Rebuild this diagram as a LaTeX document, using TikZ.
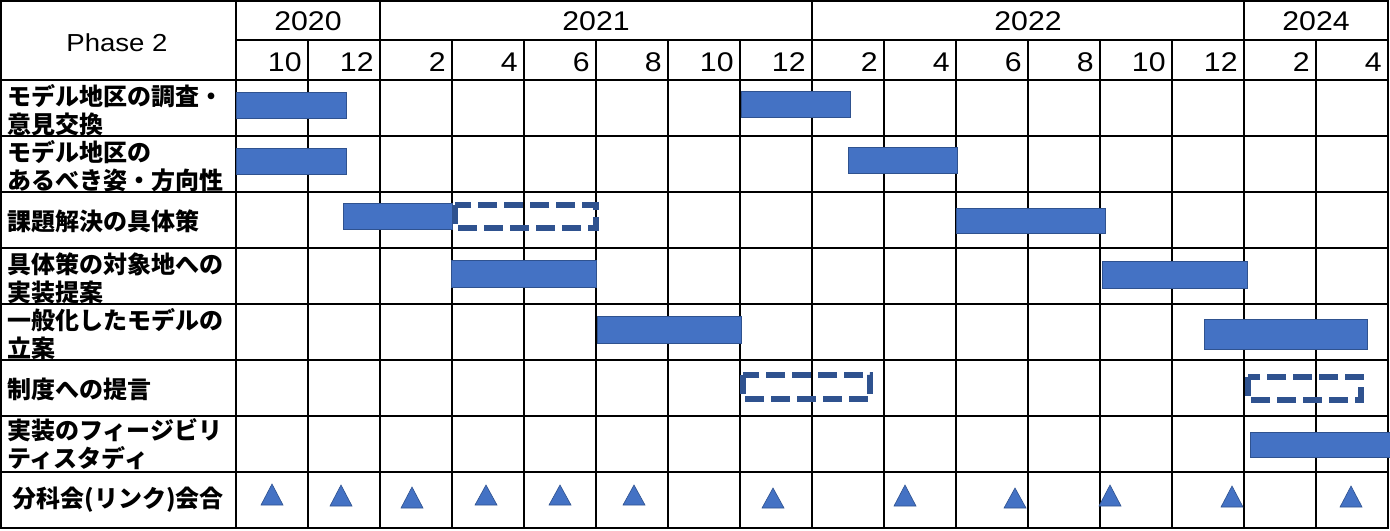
\documentclass[tikz,border=0pt]{standalone}
\usepackage{fontspec}
\setmainfont{Liberation Sans}[FakeStretch=1.12]
\newfontfamily\jp{Noto Sans CJK JP}
\definecolor{barblue}{HTML}{4472C4}
\definecolor{bardark}{HTML}{2F528F}
\begin{document}
\begin{tikzpicture}[x=0.5pt,y=-0.5pt,
  grid/.style={line width=1pt, black},
  bar/.style={fill=barblue, draw=bardark, line width=0.5pt},
  plan/.style={draw=bardark, line width=2.7pt, dash pattern=on 9.5pt off 3.5pt},
  meet/.style={fill=barblue, draw=bardark, line width=0.3pt},
  lbl/.style={anchor=west, align=left, inner sep=0pt, font=\jp\bfseries\fontsize{12}{14}\selectfont},
  yr/.style={inner sep=0pt, font=\fontsize{13.5}{16}\selectfont},
  mo/.style={anchor=east, inner sep=0pt, font=\fontsize{13.5}{16}\selectfont},
  hd/.style={inner sep=0pt, font=\fontsize{12.3}{14}\selectfont}]
\useasboundingbox (0,0) rectangle (1390,530);
\fill[white] (0,0) rectangle (1390,530);
% row labels
\node[hd] (phase) at (117,43) {Phase 2};
\node[lbl] (l1) at (7,110) {モデル地区の調査・\\意見交換};
\node[lbl] (l2) at (7,166) {モデル地区の\\あるべき姿・方向性};
\node[lbl] (l3) at (7,221) {課題解決の具体策};
\node[lbl] (l4) at (7,278) {具体策の対象地への\\実装提案};
\node[lbl] (l5) at (7,334) {一般化したモデルの\\立案};
\node[lbl] (l6) at (7,389) {制度への提言};
\node[lbl] (l7) at (7,444) {実装のフィージビリ\\ティスタディ};
\node[lbl, anchor=center] (l8) at (118,500) {分科会(リンク)会合};
% years
\node[yr] (y2020) at (308,21.5) {2020};
\node[yr] (y2021) at (596,21.5) {2021};
\node[yr] (y2022) at (1028,21.5) {2022};
\node[yr] (y2024) at (1316,21.5) {2024};
% months
\foreach \m [count=\i from 0] in {10,12,2,4,6,8,10,12,2,4,6,8,10,12,2,4}
  \node[mo] (m\i) at (302+72*\i,62) {\m};
% grid
\draw[grid] (1,1) rectangle (1388,528);
\draw[grid] (236,40) -- (1388,40);
\foreach \yy in {80,136,192,248,304,360,416,472}
  \draw[grid] (1,\yy) -- (1388,\yy);
\foreach \xx in {236,380,812,1244}
  \draw[grid] (\xx,1) -- (\xx,528);
\foreach \xx in {308,452,524,596,668,740,884,956,1028,1100,1172,1316}
  \draw[grid] (\xx,40) -- (\xx,528);
% bars
\foreach \xa/\ya/\xb/\yb in {236/92/346/118, 741/91/850/117,
  236/148/346/174, 848/147/957/173,
  343/203/452/229, 956/208/1105/233,
  451/260/596/287, 1102/261/1247/288,
  597/316/741/343, 1204/319/1367/349,
  1250/432/1392/457}
  \draw[bar] (\xa,\ya) rectangle (\xb,\yb);
% planned (dashed)
\draw[plan] (455,205) rectangle (596,228);
\draw[plan] (743,375) rectangle (870,399);
\draw[plan] (1248,377) rectangle (1361,400);
% meetings
\foreach \cx/\ap/\bs in {272/484/505, 341/485/506, 412/487/508, 486/485/505,
  560/485/505, 634/485/505, 773/488/508, 905/485/506, 1015/488/508,
  1110/485/506, 1232/486/507, 1351/486/507}
  \draw[meet] (\cx-11,\bs) -- (\cx+11,\bs) -- (\cx,\ap) -- cycle;
\end{tikzpicture}
\end{document}
